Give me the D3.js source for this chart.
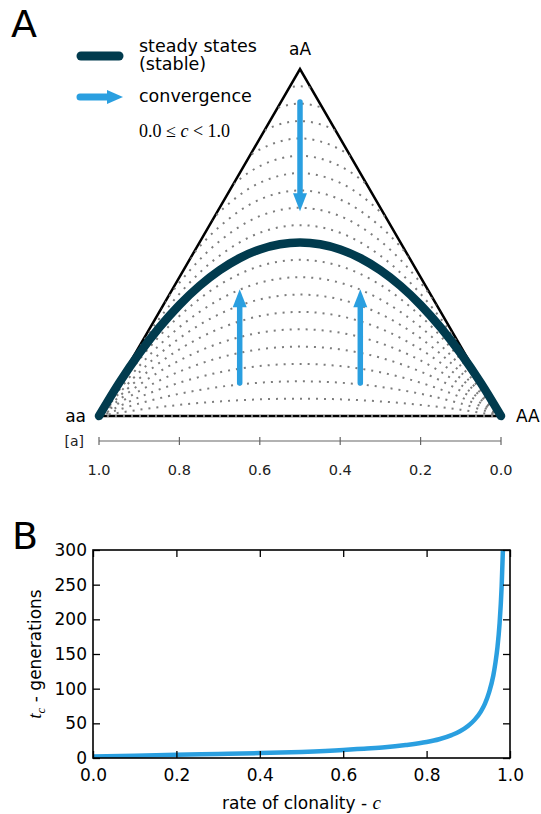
<!DOCTYPE html>
<html>
<head>
<meta charset="utf-8">
<script src="https://cdn.jsdelivr.net/npm/d3@7"></script>
<style>
body { margin: 0; background: #fff; }
text { font-family: "DejaVu Sans", sans-serif; fill: #000; }
.math { font-family: "Liberation Serif", serif; }
</style>
</head>
<body>
<svg width="541" height="814"></svg>
<script>
// ---- data, panel A (de Finetti diagram) ----
// frequency of allele a along the base, left half (the right half is the mirror)
const pGrid = [0, 0.1, 0.2, 0.3, 0.4, 0.5];
// heterozygosity of each dotted curve at pGrid (top curve first, base line last)
const dottedH = [
  [0, 0.342, 0.608, 0.798, 0.912, 0.95],
  [0, 0.324, 0.576, 0.756, 0.864, 0.90],
  [0, 0.306, 0.544, 0.714, 0.816, 0.85],
  [0, 0.288, 0.512, 0.672, 0.768, 0.80],
  [0, 0.270, 0.480, 0.630, 0.720, 0.75],
  [0, 0.252, 0.448, 0.588, 0.672, 0.70],
  [0, 0.234, 0.416, 0.546, 0.624, 0.65],
  [0, 0.216, 0.384, 0.504, 0.576, 0.60],
  [0, 0.198, 0.352, 0.462, 0.528, 0.55],
  [0, 0.162, 0.288, 0.378, 0.432, 0.45],
  [0, 0.144, 0.256, 0.336, 0.384, 0.40],
  [0, 0.126, 0.224, 0.294, 0.336, 0.35],
  [0, 0.108, 0.192, 0.252, 0.288, 0.30],
  [0, 0.090, 0.160, 0.210, 0.240, 0.25],
  [0, 0.072, 0.128, 0.168, 0.192, 0.20],
  [0, 0.054, 0.096, 0.126, 0.144, 0.15],
  [0, 0.036, 0.064, 0.084, 0.096, 0.10],
  [0, 0.018, 0.032, 0.042, 0.048, 0.05],
  [0, 0, 0, 0, 0, 0]
];
// steady states (stable) curve
const steadyP = [0, 0.05, 0.1, 0.15, 0.2, 0.25, 0.3, 0.35, 0.4, 0.45, 0.5];
const steadyH = [0, 0.095, 0.18, 0.255, 0.32, 0.375, 0.42, 0.455, 0.48, 0.495, 0.5];
// convergence arrows (a frequency, start H, end H)
const arrowA = [0.5, 0.65, 0.35];
const arrowFromH = [0.905, 0.095, 0.095];
const arrowToH = [0.59, 0.365, 0.365];
const aTicks = [1.0, 0.8, 0.6, 0.4, 0.2, 0.0];

// ---- data, panel B ----
const clonality = [0, 0.1, 0.2, 0.3, 0.4, 0.5, 0.6, 0.65, 0.7, 0.75, 0.8, 0.83, 0.86, 0.88,
                   0.9, 0.915, 0.93, 0.94, 0.95, 0.96, 0.965, 0.97, 0.975, 0.98, 0.983];
const genTime = [2.3, 3.3, 4.8, 5.9, 7.1, 8.8, 11.5, 13.5, 15.5, 18.7, 23, 27, 33, 38.5,
                 46.5, 55, 67, 78.5, 95, 119, 137, 160, 194, 248, 300];
const cTicks = [0, 0.2, 0.4, 0.6, 0.8, 1.0];
const tTicks = [0, 50, 100, 150, 200, 250, 300];

const darkTeal = "#013b4e";
const blue = "#2a9fe0";

const svg = d3.select("svg");
svg.append("rect").attr("width", 541).attr("height", 814).attr("fill", "#fff");

// ================= panel A =================
const aX = d3.scaleLinear().domain([1, 0]).range([99, 501]);
const hY = d3.scaleLinear().domain([0, 1]).range([416, 69]);

const tri = [[aX(1), hY(0)], [aX(0), hY(0)], [aX(0.5), hY(1)]];
svg.append("defs").append("clipPath").attr("id", "triClip")
  .append("polygon").attr("points", tri.map(d => d.join(",")).join(" "));

svg.append("polygon")
  .attr("points", tri.map(d => d.join(",")).join(" "))
  .attr("fill", "none").attr("stroke", "#000").attr("stroke-width", 2.5)
  .attr("stroke-linejoin", "miter");

// mirror a half curve onto the full base
function fullCurve(ps, hs) {
  const pts = ps.map((p, i) => [p, hs[i]]);
  for (let i = ps.length - 2; i >= 0; i--) pts.push([1 - ps[i], hs[i]]);
  return pts;
}
const triLine = d3.line().x(d => aX(d[0])).y(d => hY(d[1])).curve(d3.curveCatmullRom);

svg.append("g").selectAll("path")
  .data(dottedH)
  .join("path")
    .attr("d", d => triLine(fullCurve(pGrid, d)))
    .attr("clip-path", d => d[5] > 0.5 ? "url(#triClip)" : null)
    .attr("fill", "none")
    .attr("stroke", "#7d7d7d")
    .attr("stroke-width", 2)
    .attr("stroke-dasharray", "2 6");

svg.append("path")
  .attr("d", triLine(fullCurve(steadyP, steadyH)))
  .attr("fill", "none").attr("stroke", darkTeal).attr("stroke-width", 8.5)
  .attr("stroke-linecap", "round");

function arrow(g, x1, y1, x2, y2, shaftW, headW, headL) {
  const len = Math.hypot(x2 - x1, y2 - y1), ux = (x2 - x1) / len, uy = (y2 - y1) / len;
  const bx = x2 - ux * headL, by = y2 - uy * headL;
  g.append("line").attr("x1", x1).attr("y1", y1).attr("x2", bx + ux).attr("y2", by + uy)
    .attr("stroke", blue).attr("stroke-width", shaftW).attr("stroke-linecap", "round");
  g.append("polygon")
    .attr("points", [[x2, y2], [bx - uy * headW / 2, by + ux * headW / 2], [bx + uy * headW / 2, by - ux * headW / 2]]
      .map(d => d.join(",")).join(" "))
    .attr("fill", blue);
}
const gArrows = svg.append("g");
arrowA.forEach((a, i) => arrow(gArrows, aX(a), hY(arrowFromH[i]), aX(a), hY(arrowToH[i]), 5.5, 14, 18));

// vertex labels
svg.append("text").attr("x", aX(0.5)).attr("y", 55).attr("text-anchor", "middle").style("font-size", "17px").text("aA");
svg.append("text").attr("x", 86).attr("y", 422).attr("text-anchor", "end").style("font-size", "17px").text("aa");
svg.append("text").attr("x", 516).attr("y", 422).style("font-size", "17px").text("AA");

// allele frequency axis
const gAx = svg.append("g").attr("transform", "translate(0,441)");
gAx.append("line").attr("x1", aX(1)).attr("x2", aX(0)).attr("stroke", "#666").attr("stroke-width", 1.2);
gAx.selectAll(".tk").data(aTicks).join("line")
  .attr("x1", d => aX(d)).attr("x2", d => aX(d)).attr("y1", -4).attr("y2", 4)
  .attr("stroke", "#666").attr("stroke-width", 1.2);
gAx.selectAll("text").data(aTicks).join("text")
  .attr("x", d => aX(d)).attr("y", 34).attr("text-anchor", "middle")
  .style("font-size", "14.5px").style("fill", "#222").text(d => d.toFixed(1));
svg.append("text").attr("x", 84).attr("y", 446).attr("text-anchor", "end")
  .style("font-size", "14px").style("fill", "#222").text("[a]");

// panel letter + legend
svg.append("text").attr("x", 11).attr("y", 37).style("font-size", "38px").text("A");
svg.append("line").attr("x1", 81).attr("x2", 119).attr("y1", 56).attr("y2", 56)
  .attr("stroke", darkTeal).attr("stroke-width", 9).attr("stroke-linecap", "round");
svg.append("text").attr("x", 139).attr("y", 52).style("font-size", "17.5px").text("steady states");
svg.append("text").attr("x", 139).attr("y", 70).style("font-size", "17.5px").text("(stable)");
arrow(svg.append("g"), 80, 97, 123, 97, 7, 14, 16);
svg.append("text").attr("x", 139).attr("y", 102).style("font-size", "17.5px").text("convergence");
svg.append("text").attr("class", "math").attr("x", 139).attr("y", 137).style("font-size", "18px")
  .html('0.0 \u2264 <tspan font-style="italic">c</tspan> &lt; 1.0');

// ================= panel B =================
const cX = d3.scaleLinear().domain([0, 1]).range([93, 510]);
const tY = d3.scaleLinear().domain([0, 300]).range([758, 550]);

svg.append("defs").append("clipPath").attr("id", "plotClip")
  .append("rect").attr("x", cX(0)).attr("y", tY(300)).attr("width", cX(1) - cX(0)).attr("height", tY(0) - tY(300));

svg.append("path")
  .datum(clonality.map((c, i) => [c, genTime[i]]))
  .attr("clip-path", "url(#plotClip)")
  .attr("d", d3.line().x(d => cX(d[0])).y(d => tY(d[1])).curve(d3.curveMonotoneX))
  .attr("fill", "none").attr("stroke", blue).attr("stroke-width", 4.5);

function styleAxis(g) {
  g.select(".domain").remove();
  g.selectAll(".tick line").attr("stroke", "#000").attr("stroke-width", 1.3);
  g.selectAll(".tick text").style("font-size", "17px").attr("fill", "#000");
}
svg.append("g").attr("transform", `translate(0,${tY(0)})`)
  .call(d3.axisBottom(cX).tickValues(cTicks).tickSizeInner(-7).tickSizeOuter(0).tickPadding(11).tickFormat(d3.format(".1f")))
  .call(styleAxis);
svg.append("g").attr("transform", `translate(0,${tY(300)})`)
  .call(d3.axisTop(cX).tickValues(cTicks).tickSizeInner(-7).tickSizeOuter(0).tickFormat(""))
  .call(styleAxis);
svg.append("g").attr("transform", `translate(${cX(0)},0)`)
  .call(d3.axisLeft(tY).tickValues(tTicks).tickSizeInner(-7).tickSizeOuter(0).tickPadding(6))
  .call(styleAxis);
svg.append("g").attr("transform", `translate(${cX(1)},0)`)
  .call(d3.axisRight(tY).tickValues(tTicks).tickSizeInner(-7).tickSizeOuter(0).tickFormat(""))
  .call(styleAxis);

svg.append("rect").attr("x", cX(0)).attr("y", tY(300)).attr("width", cX(1) - cX(0)).attr("height", tY(0) - tY(300))
  .attr("fill", "none").attr("stroke", "#000").attr("stroke-width", 1.6);

svg.append("text").attr("x", 12).attr("y", 549).style("font-size", "38px").text("B");

svg.append("text").attr("x", cX(0.5)).attr("y", 809).attr("text-anchor", "middle").style("font-size", "17px")
  .html('rate of clonality - <tspan class="math" font-style="italic" font-size="19px">c</tspan>');

svg.append("text").attr("transform", `translate(41,${tY(150)}) rotate(-90)`).attr("text-anchor", "middle")
  .style("font-size", "17px")
  .html('<tspan class="math" font-style="italic" font-size="19px">t</tspan><tspan class="math" font-style="italic" font-size="13px" dy="4">c</tspan><tspan dy="-4"> - generations</tspan>');
</script>
</body>
</html>
